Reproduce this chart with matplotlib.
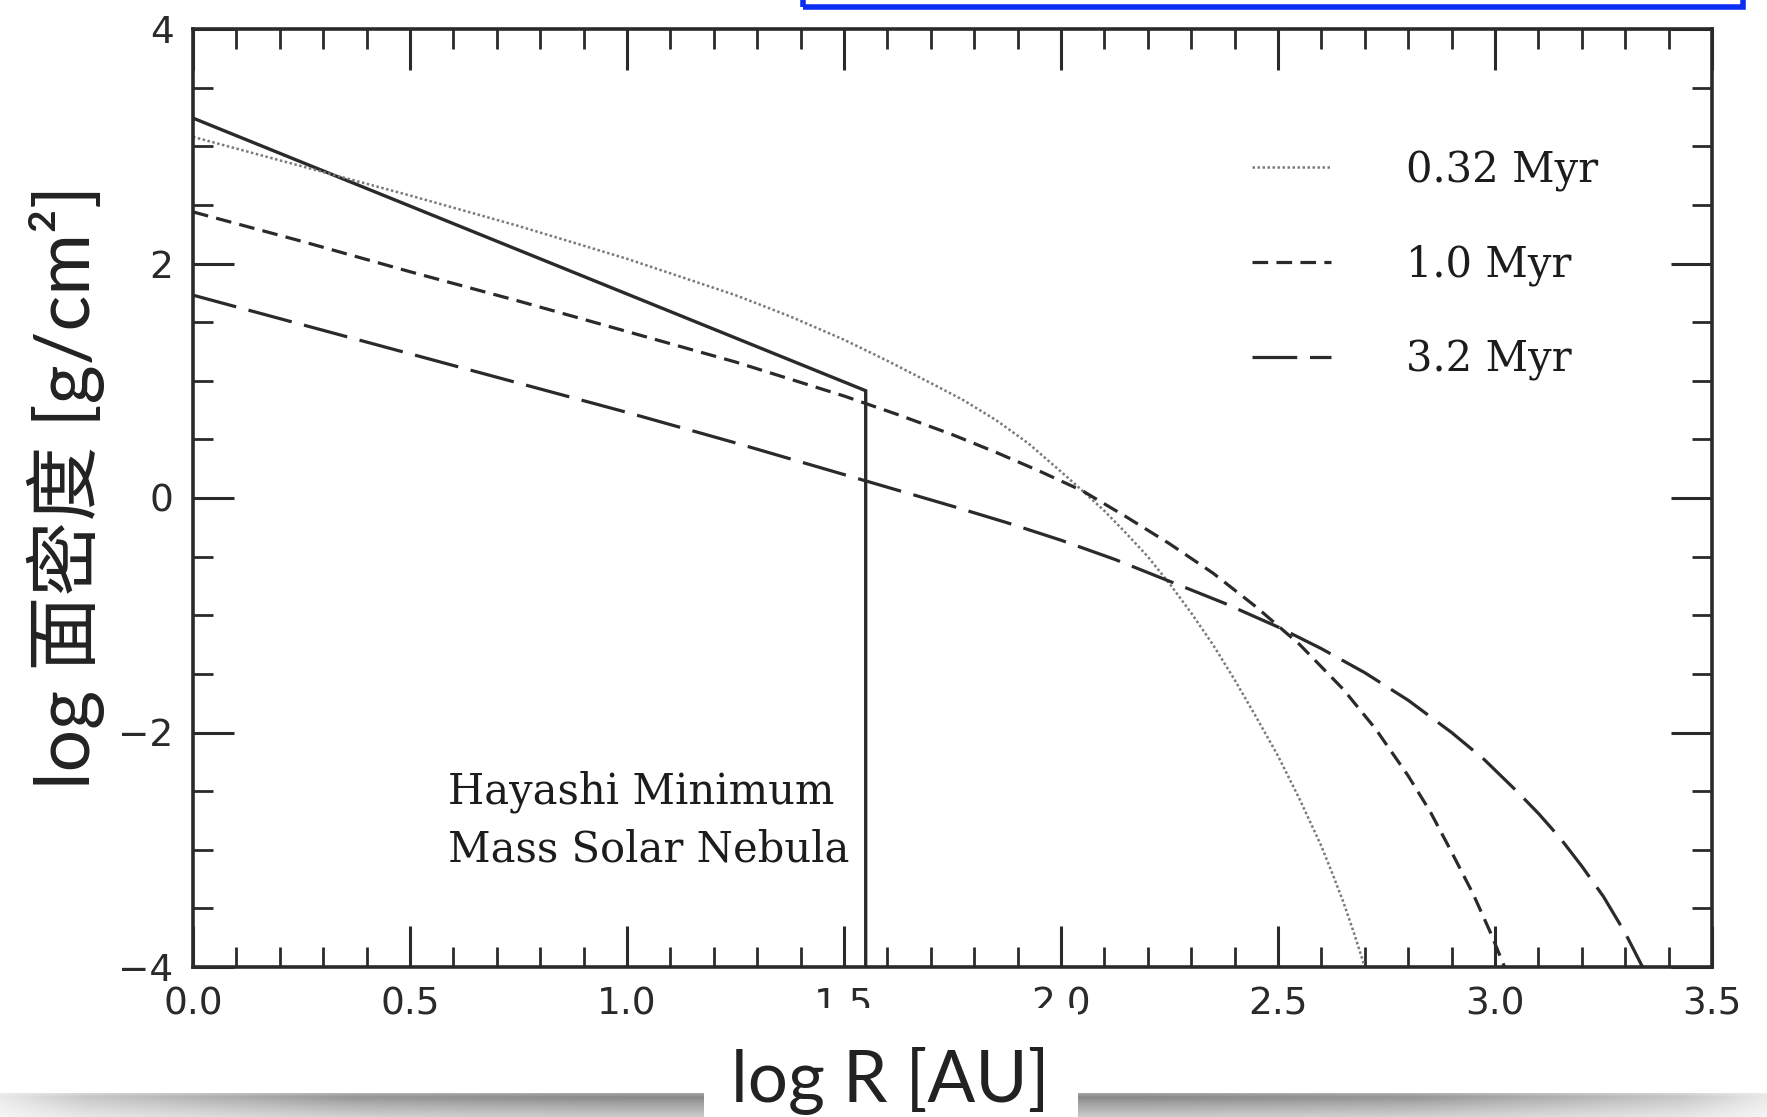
import numpy as np
import matplotlib.pyplot as plt
from matplotlib.patches import Rectangle
from matplotlib.ticker import MultipleLocator

# values: x = log R [AU], y = log surface density
r_hayashi = [0.0, 1.55, 1.55]
sig_hayashi = [3.24, 0.915, -4.0]

r_032 = [0.0, 0.25, 0.5, 0.75, 1.0, 1.25, 1.375, 1.5, 1.6, 1.7, 1.775, 1.85, 1.925, 2.0, 2.05,
         2.1, 2.15, 2.2, 2.25, 2.3, 2.35, 2.4, 2.45, 2.5, 2.55, 2.6, 2.625, 2.65, 2.675, 2.70]
sig_032 = [3.08, 2.83, 2.58, 2.32, 2.04, 1.73, 1.55, 1.35, 1.17, 0.98, 0.835, 0.665, 0.465, 0.225, 0.06,
           -0.11, -0.30, -0.50, -0.73, -0.98, -1.25, -1.55, -1.87, -2.20, -2.57, -2.97, -3.20, -3.44, -3.71, -4.0]

r_10 = [0.0, 0.25, 0.5, 0.75, 1.0, 1.25, 1.5, 1.625, 1.75, 1.85, 1.95, 2.05, 2.15, 2.25, 2.35,
        2.45, 2.55, 2.65, 2.725, 2.8, 2.85, 2.9, 2.95, 2.99, 3.022]
sig_10 = [2.44, 2.19, 1.93, 1.68, 1.42, 1.16, 0.87, 0.71, 0.54, 0.39, 0.23, 0.06, -0.16, -0.39, -0.64,
          -0.93, -1.25, -1.63, -1.97, -2.37, -2.67, -3.02, -3.38, -3.71, -4.0]

r_32 = [0.0, 0.25, 0.5, 0.75, 1.0, 1.25, 1.5, 1.75, 1.875, 2.0, 2.125, 2.25, 2.375, 2.5, 2.6, 2.7,
        2.8, 2.9, 2.975, 3.05, 3.1, 3.15, 3.2, 3.25, 3.3, 3.34]
sig_32 = [1.73, 1.48, 1.23, 0.98, 0.73, 0.47, 0.20, -0.07, -0.21, -0.36, -0.525, -0.71, -0.895, -1.10, -1.285, -1.49,
          -1.725, -2.00, -2.23, -2.50, -2.69, -2.90, -3.14, -3.40, -3.71, -4.0]

series_labels = ['0.32 Myr', '1.0 Myr', '3.2 Myr']
x_ticks = [0.0, 0.5, 1.0, 1.5, 2.0, 2.5, 3.0, 3.5]
x_ticklabels = ['0.0', '0.5', '1.0', '1.5', '2.0', '2.5', '3.0', '3.5']
y_ticks = [-4, -2, 0, 2, 4]
y_ticklabels = ['\u22124', '\u22122', '0', '2', '4']

W, H = 1767, 1117
ink = '#2a2a2a'

fig = plt.figure(figsize=(W / 100, H / 100), dpi=100)
fig.patch.set_facecolor('white')

ax = fig.add_axes([193 / W, 1 - 967 / H, 1519 / W, 938 / H])
ax.set_xlim(0, 3.5)
ax.set_ylim(-4, 4)

ax.plot(r_hayashi, sig_hayashi, color=ink, lw=2.4, solid_joinstyle='miter')
l1, = ax.plot(r_032, sig_032, color='#7a7a7a', lw=1.8, ls=(0, (1, 1)), label=series_labels[0])
l2, = ax.plot(r_10, sig_10, color=ink, lw=2.3, ls=(0, (4.9, 2.6)), label=series_labels[1])
l3, = ax.plot(r_32, sig_32, color=ink, lw=2.3, ls=(0, (14, 4)), label=series_labels[2])

ax.set_xticks(x_ticks, x_ticklabels)
ax.set_yticks(y_ticks, y_ticklabels)
ax.xaxis.set_minor_locator(MultipleLocator(0.1))
ax.yaxis.set_minor_locator(MultipleLocator(0.5))
ax.tick_params(which='both', direction='in', top=True, right=True, color=ink)
ax.tick_params(which='major', length=29.5, width=2.2, labelsize=27, pad=14, labelcolor='#2a2a2a')
ax.tick_params(which='minor', length=14.5, width=2.0)
for s in ax.spines.values():
    s.set_linewidth(2.6)
    s.set_color(ink)

serif = 'DejaVu Serif'
ax.text(0.588, -2.75, 'Hayashi Minimum\nMass Solar Nebula', ha='left', va='center',
        fontsize=30, family=serif, color='#1c1c1c', linespacing=1.46)

leg = ax.legend(handles=[l1, l2, l3], loc='upper left', bbox_to_anchor=(0.697, 0.872),
                frameon=False, prop={'family': serif, 'size': 30}, handlelength=1.9,
                handletextpad=1.8, labelspacing=1.25, borderpad=0, borderaxespad=0)
for t in leg.get_texts():
    t.set_color('#1c1c1c')

# slide decorations: blue box at top, grey shadow bar at bottom
fig.add_artist(Rectangle((803 / W, 1 - 7 / H), (1743 - 803) / W, 0.05, transform=fig.transFigure,
                         fill=False, edgecolor='#0b2ef5', lw=4, clip_on=False))

bax = fig.add_axes([0, 0, 1, 24 / H], zorder=-1)
hx = np.linspace(0, 1, W)
dk = np.interp(hx, [0, 0.05, 0.2, 0.35, 0.65, 0.8, 0.95, 1], [0.12, 0.3, 0.55, 0.62, 0.62, 0.55, 0.3, 0.12])
vy = np.interp(np.linspace(0, 1, 24), [0, 0.15, 0.5, 1], [0.75, 1.0, 0.75, 0.45])
band = 1 - 0.75 * np.outer(vy, dk)
bax.imshow(band, cmap='gray', vmin=0, vmax=1, aspect='auto', interpolation='bilinear')
bax.axis('off')

fig.add_artist(Rectangle((704 / W, 0), (1078 - 704) / W, (H - 1008) / H, transform=fig.transFigure,
                         facecolor='white', edgecolor='none', zorder=5))
fig.text(890 / W, 15 / H, 'log R [AU]', ha='center', va='baseline', fontsize=51,
         family=['Lato', 'DejaVu Sans'], color='#222222', zorder=6)
fig.text(66 / W, 1 - 487 / H, 'log 面密度 [g/cm²]', rotation=90, ha='center', va='center',
         fontsize=54, family=['Lato', 'Noto Sans CJK SC', 'DejaVu Sans'], color='#222222')

fig.savefig('out.png', dpi=100)
